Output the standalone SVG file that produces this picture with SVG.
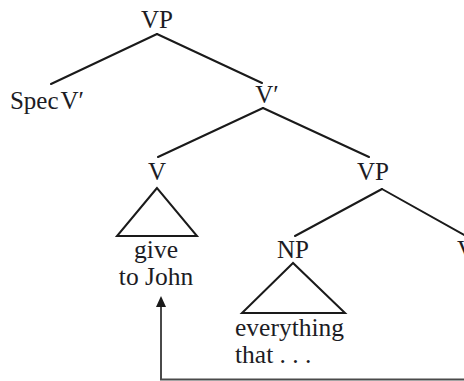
<svg xmlns="http://www.w3.org/2000/svg" width="464" height="381" viewBox="0 0 464 381">
  <defs>
    <style>
      .lbl { font-family: "Liberation Serif", "Times New Roman", serif; font-size: 25px; fill: #1c1c24; text-anchor: middle; }
      .leaf { font-family: "Liberation Serif", "Times New Roman", serif; font-size: 25.5px; fill: #1c1c24; }
      .edge { stroke: #1a1a1a; stroke-width: 2; fill: none; stroke-linecap: round; }
      .tri { stroke: #1a1a1a; stroke-width: 2; fill: none; stroke-linejoin: miter; }
      .move { stroke: #4a4a4a; stroke-width: 2; fill: none; }
    </style>
  </defs>
  <rect width="464" height="381" fill="#ffffff"/>

  <!-- tree branches -->
  <g id="connectors">
    <line class="edge" x1="157" y1="34" x2="51" y2="84"/>
    <line class="edge" x1="157" y1="34" x2="262" y2="83"/>
    <line class="edge" x1="263" y1="108" x2="158" y2="157"/>
    <line class="edge" x1="263" y1="108" x2="369" y2="157"/>
    <line class="edge" x1="382" y1="189" x2="295" y2="236"/>
    <line class="edge" x1="382" y1="189" x2="475" y2="241"/>
    <!-- movement arrow -->
    <polyline class="move" points="464,379.5 161,379.5 161,306"/>
    <path d="M161,296 L156,307 L166,307 Z" fill="#1a1a1a"/>
  </g>

  <g id="vp-top"><text class="lbl" x="157" y="28">VP</text></g>
  <g id="spec"><text class="lbl" x="47" y="109">Spec<tspan dx="2">V′</tspan></text></g>
  <g id="vbar"><text class="lbl" x="267" y="103">V′</text></g>

  <g id="v-head">
    <text class="lbl" x="157" y="180">V</text>
    <polygon class="tri" points="157,188 117,236 197,236"/>
    <text class="leaf" x="156" y="258" text-anchor="middle">give</text>
    <text class="leaf" x="156" y="285" text-anchor="middle">to John</text>
  </g>

  <g id="vp-low"><text class="lbl" x="373" y="180">VP</text></g>

  <g id="np">
    <text class="lbl" x="293" y="258">NP</text>
    <polygon class="tri" points="293,263 242,313 345,313"/>
    <text class="leaf" x="235" y="336">everything</text>
    <text class="leaf" x="235" y="363">that . . .</text>
  </g>

  <g id="v-right"><text class="lbl" x="466" y="258">V</text></g>
</svg>
